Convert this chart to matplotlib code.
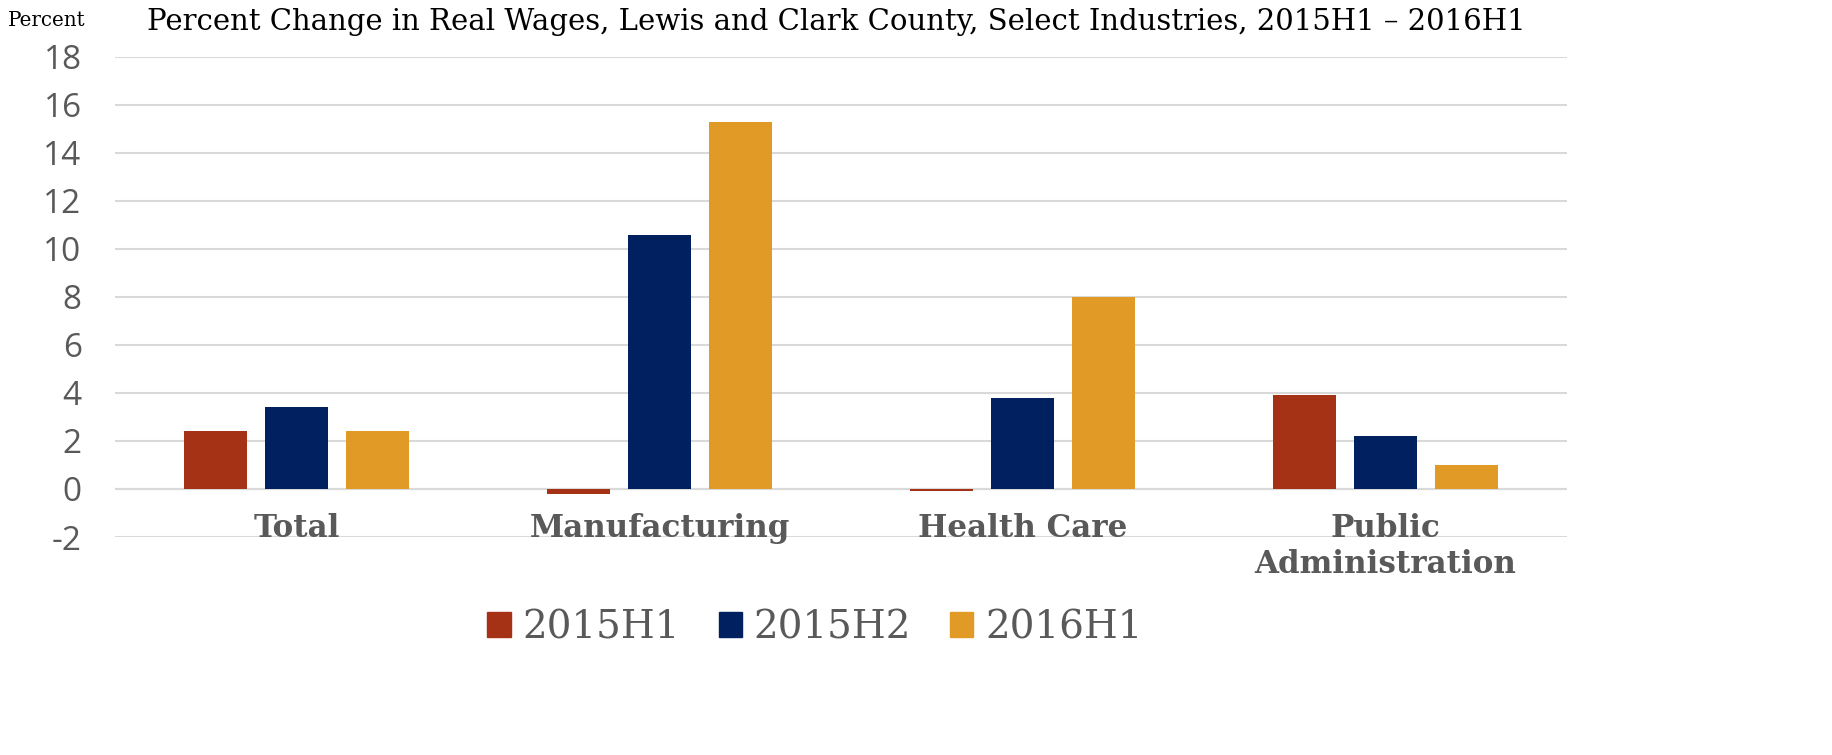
import numpy as np
import matplotlib
matplotlib.use('Agg')
import matplotlib.pyplot as plt
from matplotlib.patches import Patch

categories = ['Total', 'Manufacturing', 'Health Care', 'Public\nAdministration']
series_names = ['2015H1', '2015H2', '2016H1']
h1_2015 = [2.4, -0.2, -0.1, 3.9]
h2_2015 = [3.4, 10.6, 3.8, 2.2]
h1_2016 = [2.4, 15.3, 8.0, 1.0]
colors = ['#A53214', '#002060', '#E29A27']

fig = plt.figure(figsize=(18.33, 7.55), dpi=100)
ax = fig.add_axes([115/1833, 1 - 537/755, 1452/1833, 480/755])

x = np.arange(len(categories))
width = 0.174
step = 0.223
for i, (vals, c) in enumerate(zip([h1_2015, h2_2015, h1_2016], colors)):
    ax.bar(x + (i - 1) * step, vals, width, color=c, zorder=3)

ax.set_xlim(-0.5, len(categories) - 0.5)
ax.set_ylim(-2, 18)
ax.set_yticks(np.arange(-2, 19, 2))
ax.yaxis.grid(True, color='#D9D9D9', linewidth=1.5, zorder=0)
ax.axhline(0, color='#D9D9D9', linewidth=1.5, zorder=1)
for s in ax.spines.values():
    s.set_visible(False)
ax.tick_params(axis='both', length=0)
ax.tick_params(axis='y', pad=24)
ax.set_yticklabels([str(v) for v in range(-2, 19, 2)], fontsize=24, color='#595959', family='Open Sans')
ax.set_xticks([])

# category labels just below the zero line
for xi, lab in zip(x, categories):
    ax.text(xi, -1.0, lab, ha='center', va='top', fontsize=22.3, fontweight='bold',
            color='#595959', family='DejaVu Serif', linespacing=1.2)

fig.text(147/1833, 1 - 22/755, 'Percent Change in Real Wages, Lewis and Clark County, Select Industries, 2015H1 \u2013 2016H1',
         fontsize=21, family='DejaVu Serif', va='center', ha='left')
fig.text(8/1833, 1 - 20/755, 'Percent', fontsize=14.3, family='DejaVu Serif', va='center', ha='left')

handles = [Patch(color=c, label=n) for c, n in zip(colors, series_names)]
fig.legend(handles=handles, loc='center', bbox_to_anchor=(815/1833, 1 - 628/755), ncol=3, frameon=False,
           prop={'family': 'DejaVu Serif', 'size': 28}, labelcolor='#595959',
           handlelength=0.6, handleheight=0.6, columnspacing=1.0, handletextpad=0.3)

fig.savefig('out.png', dpi=100)
